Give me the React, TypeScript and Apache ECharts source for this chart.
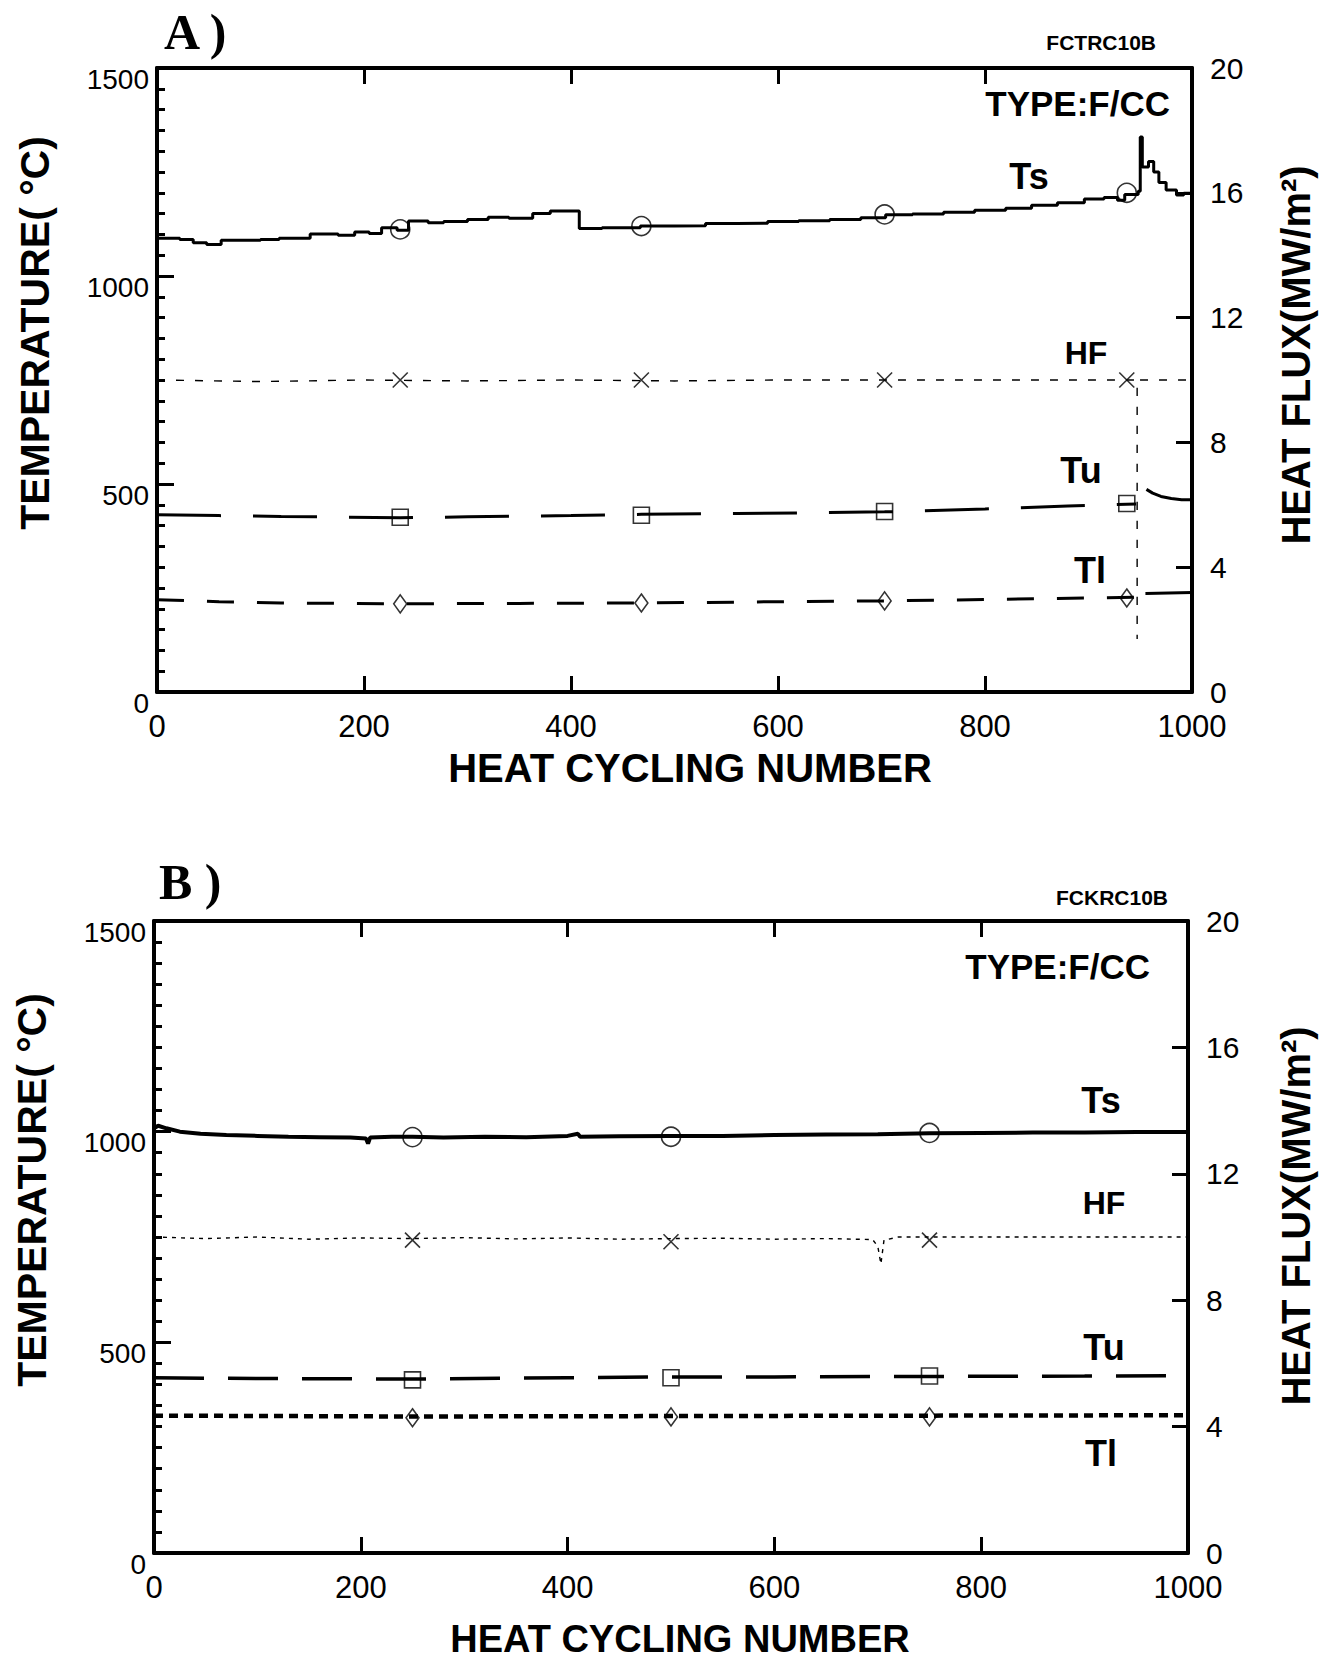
import { useEffect, useRef } from "react";
import * as echarts from "echarts";

type P = [number, number];

// ---------- Panel A (FCTRC10B) ----------
const tsA: P[] = [
  [0, 1091], [22, 1088], [35, 1080], [48, 1076], [62, 1086], [100, 1088], [118, 1091],
  [148, 1101], [175, 1098], [191, 1106], [205, 1102], [217, 1116], [232, 1110], [243, 1132],
  [262, 1128], [277, 1131], [300, 1136], [320, 1141], [340, 1139], [363, 1150], [380, 1156],
  [408, 1114], [430, 1116], [467, 1120], [500, 1121], [530, 1126], [560, 1127], [590, 1131],
  [620, 1133], [650, 1136], [680, 1140], [704, 1147], [730, 1149], [760, 1153], [790, 1158],
  [820, 1163], [845, 1170], [870, 1176], [896, 1185], [915, 1189], [928, 1182], [935, 1196],
  [948, 1204], [950, 1334], [952, 1262], [958, 1275], [963, 1250], [968, 1225], [975, 1207],
  [985, 1195], [992, 1199], [1000, 1199],
];
const hfA: P[] = [
  [0, 10], [100, 9.95], [200, 10], [300, 9.97], [400, 10], [500, 9.97], [600, 10],
  [947, 10], [947, 1.7], [947, 10], [1000, 10],
];
const tuA1: P[] = [
  [0, 426], [60, 424], [120, 422], [235, 419], [300, 421], [400, 424], [468, 427],
  [560, 429], [640, 431], [703, 433], [800, 440], [880, 447], [946, 452],
];
const tuA2: P[] = [[956, 487], [962, 478], [970, 470], [980, 465], [990, 462], [1000, 462]];
const tlA1: P[] = [
  [0, 222], [60, 217], [120, 214], [235, 212], [350, 213], [468, 214], [600, 217],
  [703, 219], [850, 224], [946, 228],
];
const tlA2: P[] = [[955, 237], [1000, 239]];
const tsAMarks: P[] = [[235, 1112], [468, 1120], [703, 1148], [937, 1200]];
const hfAMarks: P[] = [[235, 10], [468, 10], [703, 10], [937, 10]];
const tuAMarks: P[] = [[235, 420], [468, 425], [703, 434], [937, 453]];
const tlAMarks: P[] = [[235, 212], [468, 214], [703, 219], [937, 226]];

// ---------- Panel B (FCKRC10B) ----------
const tsB: P[] = [
  [0, 1008], [4, 1014], [12, 1008], [25, 1000], [45, 995], [70, 992], [100, 990], [130, 988],
  [160, 987], [190, 986], [205, 984], [207, 972], [209, 986], [230, 988], [250, 988],
  [280, 986], [320, 988], [360, 987], [400, 990], [410, 995], [412, 988], [450, 989],
  [500, 990], [550, 990], [600, 992], [650, 993], [700, 994], [750, 996], [800, 997],
  [850, 998], [900, 998], [950, 999], [1000, 999],
];
const hfB: P[] = [
  [0, 10], [50, 9.95], [100, 10], [150, 9.93], [200, 9.97], [250, 9.95], [300, 9.98],
  [350, 9.94], [400, 9.97], [450, 9.93], [500, 9.95], [550, 9.96], [600, 9.93], [650, 9.95],
  [695, 9.92], [700, 9.7], [703, 9.15], [706, 9.9], [720, 10], [800, 10], [900, 10], [1000, 10],
];
const tuB: P[] = [
  [0, 416], [100, 414], [250, 413], [400, 416], [500, 418], [600, 418], [750, 419],
  [900, 420], [1000, 421],
];
const tlB: P[] = [[0, 326], [250, 324], [500, 325], [750, 326], [1000, 327]];
const tsBMarks: P[] = [[250, 987], [500, 988], [750, 997]];
const hfBMarks: P[] = [[250, 9.9], [500, 9.85], [750, 9.9]];
const tuBMarks: P[] = [[250, 411], [500, 416], [750, 420]];
const tlBMarks: P[] = [[250, 321], [500, 323], [750, 323]];

// ---------- axis ranges ----------
const X_MIN = 0, X_MAX = 1000, X_STEP = 200;
const T_MIN = 0, T_MAX = 1500, T_STEP = 500;
const HF_MIN = 0, HF_MAX = 20, HF_STEP = 4;

const BLACK = "#000";
const SANS = "Liberation Sans";
const SERIF = "Liberation Serif";
const CROSS = "path://M0,0L10,10M10,0L0,10";
const plain = (v: number) => String(v);

function xAxis(gridIndex: number, position: "top" | "bottom") {
  return {
    type: "value", gridIndex, position, min: X_MIN, max: X_MAX, interval: X_STEP,
    axisLine: { show: true, onZero: false, lineStyle: { color: BLACK, width: 4 } },
    axisTick: { show: true, inside: true, length: 16, lineStyle: { color: BLACK, width: 3 } },
    axisLabel: {
      show: position === "bottom", margin: 19, fontSize: 31, color: BLACK, fontFamily: SANS,
      formatter: plain,
    },
    splitLine: { show: false },
  };
}
function yLeft(gridIndex: number) {
  return {
    type: "value", gridIndex, position: "left", min: T_MIN, max: T_MAX, interval: T_STEP,
    axisLine: { show: true, onZero: false, lineStyle: { color: BLACK, width: 4 } },
    axisTick: { show: true, inside: true, length: 17, lineStyle: { color: BLACK, width: 3 } },
    minorTick: { show: true, splitNumber: 10, length: 8, lineStyle: { color: BLACK, width: 3 } },
    axisLabel: {
      margin: 8, fontSize: 28, color: BLACK, fontFamily: SANS, formatter: plain,
      verticalAlign: "top", lineHeight: 22,
    },
    splitLine: { show: false },
    minorSplitLine: { show: false },
  };
}
function yRight(gridIndex: number) {
  return {
    type: "value", gridIndex, position: "right", min: HF_MIN, max: HF_MAX, interval: HF_STEP,
    axisLine: { show: true, onZero: false, lineStyle: { color: BLACK, width: 4 } },
    axisTick: { show: true, inside: true, length: 16, lineStyle: { color: BLACK, width: 3 } },
    axisLabel: { margin: 18, fontSize: 30, color: BLACK, fontFamily: SANS, formatter: plain },
    splitLine: { show: false },
  };
}

function line(data: P[], xi: number, yi: number, width: number, type: any, step?: any) {
  return {
    type: "line", data, xAxisIndex: xi, yAxisIndex: yi, showSymbol: false, symbol: "none",
    step: step || false, silent: true, z: 3,
    lineStyle: { color: BLACK, width, type, cap: "butt" },
  };
}
function marks(data: P[], xi: number, yi: number, symbol: string, size: any) {
  return {
    type: "scatter", data, xAxisIndex: xi, yAxisIndex: yi, symbol, symbolSize: size, silent: true, z: 5,
    itemStyle: { color: "rgba(0,0,0,0)", borderColor: BLACK, borderWidth: 1.6 },
  };
}

function text(x: number, y: number, s: string, size: number, opts: any = {}) {
  return {
    type: "text", x, y, rotation: opts.rotation || 0, silent: true, z: 10,
    style: {
      text: s, fontSize: size, fontWeight: opts.weight || "bold", fontFamily: opts.family || SANS,
      fill: BLACK, align: opts.align || "center", verticalAlign: "middle",
      textAlign: opts.align || "center", textVerticalAlign: "middle",
    },
  };
}

const ROT = Math.PI / 2;

const option = {
  animation: false,
  backgroundColor: "#fff",
  grid: [
    { left: 157, top: 68, width: 1035, height: 624 },
    { left: 154, top: 921, width: 1034, height: 632 },
  ],
  xAxis: [xAxis(0, "bottom"), xAxis(0, "top"), xAxis(1, "bottom"), xAxis(1, "top")],
  yAxis: [yLeft(0), yRight(0), yLeft(1), yRight(1)],
  series: [
    // Panel A
    line(tsA, 0, 0, 3, "solid", "end"),
    line(hfA, 0, 1, 1.4, [8, 11]),
    line(tuA1, 0, 0, 3, [64, 32]),
    line(tuA2, 0, 0, 3, "solid"),
    line(tlA1, 0, 0, 3, [27, 23]),
    line(tlA2, 0, 0, 3, "solid"),
    marks(tsAMarks, 0, 0, "circle", 19),
    marks(hfAMarks, 0, 1, CROSS, 15),
    marks(tuAMarks, 0, 0, "rect", 16),
    marks(tlAMarks, 0, 0, "diamond", [13, 18]),
    // Panel B
    line(tsB, 2, 2, 4, "solid"),
    line(hfB, 2, 3, 1.4, [4, 5]),
    line(tuB, 2, 2, 3.5, [50, 24]),
    line(tlB, 2, 2, 4.5, [9, 6]),
    marks(tsBMarks, 2, 2, "circle", 19),
    marks(hfBMarks, 2, 3, CROSS, 15),
    marks(tuBMarks, 2, 2, "rect", 16),
    marks(tlBMarks, 2, 2, "diamond", [13, 18]),
  ],
  graphic: [
    // Panel A texts
    text(164, 32, "A )", 50, { family: SERIF, align: "left" }),
    text(1156, 42, "FCTRC10B", 21, { align: "right" }),
    text(1170, 103, "TYPE:F/CC", 35, { align: "right" }),
    text(1029, 176, "Ts", 36),
    text(1086, 353, "HF", 32),
    text(1081, 470, "Tu", 36),
    text(1090, 570, "Tl", 36),
    text(690, 768, "HEAT CYCLING NUMBER", 40),
    text(35, 333, "TEMPERATURE( °C)", 41, { rotation: ROT }),
    text(1296, 355, "HEAT FLUX(MW/m²)", 40, { rotation: ROT }),
    // Panel B texts
    text(159, 882, "B )", 50, { family: SERIF, align: "left" }),
    text(1168, 897, "FCKRC10B", 21, { align: "right" }),
    text(1150, 966, "TYPE:F/CC", 35, { align: "right" }),
    text(1101, 1100, "Ts", 36),
    text(1104, 1203, "HF", 32),
    text(1104, 1347, "Tu", 36),
    text(1101, 1453, "Tl", 36),
    text(680, 1639, "HEAT CYCLING NUMBER", 38),
    text(32, 1190, "TEMPERATURE( °C)", 41, { rotation: ROT }),
    text(1296, 1216, "HEAT FLUX(MW/m²)", 40, { rotation: ROT }),
  ],
};

export default function App() {
  const ref = useRef<HTMLDivElement>(null);
  useEffect(() => {
    const chart = echarts.init(ref.current!, null, { renderer: "svg" });
    chart.setOption(option as any);
    return () => chart.dispose();
  }, []);
  return (
    <div
      ref={ref}
      style={{ position: "absolute", left: 0, top: 0, width: 1329, height: 1662, background: "#fff" }}
    />
  );
}
